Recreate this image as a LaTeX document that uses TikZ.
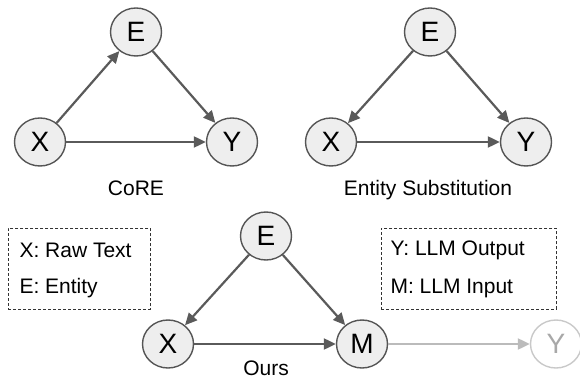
\documentclass[tikz,border=0pt]{standalone}
\usepackage{fontspec}
\setmainfont{Liberation Sans}
\usetikzlibrary{shapes.geometric,arrows.meta}
\definecolor{nodefill}{HTML}{EEEEEE}
\definecolor{nodeline}{HTML}{555555}
\definecolor{arrowcol}{HTML}{5A5A5A}
\definecolor{fadeline}{HTML}{BBBBBB}
\definecolor{fadetext}{HTML}{A8A8A8}
\tikzset{
  var/.style={ellipse,draw=nodeline,fill=nodefill,line width=1.4pt,
    minimum width=51pt,minimum height=48pt,inner sep=0pt,
    font=\fontsize{28}{30}\selectfont},
  varfade/.style={var,draw=fadeline!80,fill=white,text=fadetext},
  edge/.style={->,draw=arrowcol,line width=2.2pt,
    >={Triangle[length=12pt,width=11pt]}},
  edgefade/.style={edge,draw=fadeline},
  caption/.style={font=\fontsize{21}{24}\selectfont},
  legend/.style={draw=black!80,dash pattern=on 3pt off 2pt,line width=0.9pt,
    minimum width=142pt,minimum height=81pt,anchor=north west}
}
\begin{document}
\begin{tikzpicture}[x=1pt,y=-1pt]
\useasboundingbox (0,0) rectangle (580,379);
% CoRE
\node[var] (c1e) at (136,32) {E};
\node[var] (c1x) at (40,142) {X};
\node[var] (c1y) at (232,142) {Y};
\node[caption] (c1l) at (136,188) {CoRE};
\draw[edge] (c1x) -- (c1e);
\draw[edge] (c1e) -- (c1y);
\draw[edge] (c1x) -- (c1y);

% entity substitution
\node[var] (c2e) at (430,32) {E};
\node[var] (c2x) at (331,142) {X};
\node[var] (c2y) at (526,142) {Y};
\node[caption] (c2l) at (428,190) {Entity Substitution};
\draw[edge] (c2e) -- (c2x);
\draw[edge] (c2e) -- (c2y);
\draw[edge] (c2x) -- (c2y);

% ours
\node[var] (c3e) at (266,236) {E};
\node[var] (c3x) at (168,344) {X};
\node[var] (c3m) at (362,344) {M};
\node[varfade] (c3y) at (556,344) {Y};
\node[caption] (c3l) at (266,368) {Ours};
\draw[edge] (c3e) -- (c3x);
\draw[edge] (c3e) -- (c3m);
\draw[edge] (c3x) -- (c3m);
\draw[edgefade] (c3m) -- (c3y);

% legends
\node[legend] (lg1) at (8,228) {};
\node[caption,anchor=west] (lg1a) at (16,250) {X: Raw Text};
\node[caption,anchor=west] (lg1b) at (16,288) {E: Entity};
\node[legend,minimum width=175pt] (lg2) at (381,228) {};
\node[caption,anchor=west] (lg2a) at (387,250) {Y: LLM Output};
\node[caption,anchor=west] (lg2b) at (387,288) {M: LLM Input};
\end{tikzpicture}
\end{document}
